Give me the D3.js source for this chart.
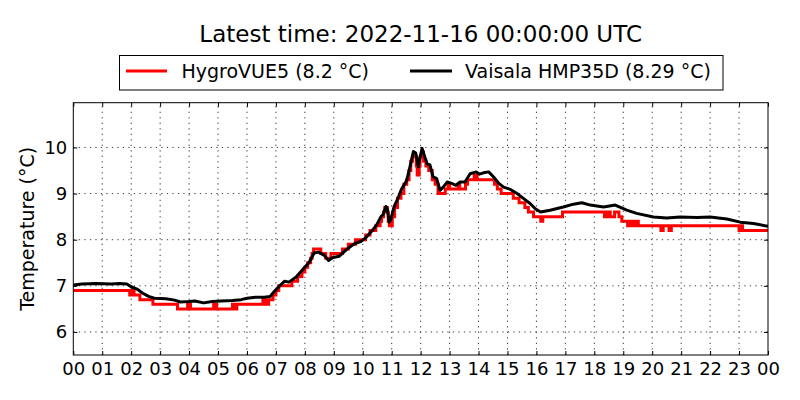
<!DOCTYPE html>
<html>
<head>
<meta charset="utf-8">
<script src="https://cdn.jsdelivr.net/npm/d3@7"></script>
<style>
body{margin:0;background:#fff;}
svg{display:block;font-family:"DejaVu Sans",sans-serif;}
</style>
</head>
<body>
<svg id="c" width="800" height="400"></svg>
<script>
const titleText = "Latest time: 2022-11-16 00:00:00 UTC";
const seriesNames = ["HygroVUE5 (8.2 °C)", "Vaisala HMP35D (8.29 °C)"];
const yTicks = [6, 7, 8, 9, 10];
const xTicks = d3.range(0, 25);
const xTickLabels = xTicks.map(h => String(h % 24).padStart(2, "0"));

// Vaisala HMP35D (hours since 00 UTC, °C)
const vaisalaHours = [0.0,0.3,0.8,1.3,1.6,1.85,2.0,2.2,2.4,2.6,2.8,3.2,3.5,3.7,4.0,4.2,4.5,4.8,5.1,5.5,5.8,6.0,6.3,6.6,6.8,6.95,7.1,7.3,7.45,7.7,7.92,8.15,8.32,8.47,8.67,8.82,8.95,9.18,9.41,9.70,9.93,10.10,10.33,10.48,10.62,10.71,10.80,10.85,10.91,10.96,11.08,11.23,11.34,11.46,11.52,11.63,11.75,11.83,11.92,11.97,12.05,12.14,12.22,12.32,12.43,12.55,12.67,12.78,12.92,13.07,13.22,13.36,13.53,13.71,13.92,14.03,14.17,14.35,14.52,14.70,14.87,15.1,15.33,15.56,15.79,15.96,16.14,16.47,16.93,17.28,17.57,17.86,18.32,18.72,19.12,19.46,20.04,20.5,20.96,21.54,22.0,22.58,23.04,23.5,24.0];
const vaisalaTemp = [7.02,7.04,7.05,7.04,7.05,7.04,6.98,6.93,6.84,6.77,6.73,6.72,6.69,6.65,6.66,6.67,6.63,6.66,6.67,6.68,6.70,6.73,6.75,6.75,6.77,6.88,6.98,7.1,7.08,7.19,7.35,7.51,7.71,7.73,7.66,7.55,7.61,7.64,7.77,7.91,7.96,8.04,8.2,8.32,8.49,8.55,8.72,8.66,8.38,8.42,8.71,8.92,9.1,9.22,9.29,9.58,9.91,9.88,9.58,9.76,9.98,9.8,9.65,9.62,9.36,9.33,9.07,9.14,9.25,9.22,9.18,9.25,9.25,9.43,9.47,9.42,9.45,9.47,9.36,9.22,9.14,9.09,9.0,8.89,8.78,8.67,8.6,8.64,8.71,8.77,8.8,8.75,8.71,8.75,8.64,8.57,8.49,8.47,8.49,8.48,8.49,8.45,8.38,8.35,8.29];

// HygroVUE5 (step changes: hours since 00 UTC, °C)
const hygroHours = [0.0,1.95,2.05,2.1,2.3,2.75,3.6,3.95,4.05,4.85,4.95,5.5,5.55,5.65,6.55,6.65,6.75,6.9,7.0,7.1,7.55,7.75,7.9,8.0,8.1,8.2,8.25,8.3,8.55,8.72,8.9,9.3,9.5,9.75,10.1,10.25,10.45,10.6,10.65,10.72,10.76,10.85,10.88,10.92,11.02,11.1,11.2,11.32,11.42,11.52,11.6,11.66,11.72,11.85,11.88,11.95,11.98,12.03,12.1,12.18,12.28,12.4,12.5,12.6,12.85,12.95,13.0,13.3,13.35,13.55,13.62,13.85,13.95,14.55,14.65,14.78,15.2,15.4,15.6,15.72,15.9,16.15,16.22,16.9,18.35,18.45,18.55,18.7,18.85,18.95,19.15,19.25,19.35,19.45,19.52,20.3,20.38,20.58,20.66,23.0,23.08,23.12,24.0];
const hygroTemp = [6.9,6.8,6.9,6.8,6.7,6.6,6.5,6.6,6.5,6.6,6.5,6.6,6.5,6.6,6.7,6.6,6.7,6.8,6.9,7.0,7.1,7.2,7.3,7.4,7.5,7.6,7.7,7.8,7.7,7.6,7.7,7.8,7.9,8.0,8.1,8.2,8.3,8.4,8.5,8.6,8.7,8.6,8.4,8.3,8.5,8.7,8.9,9.0,9.2,9.3,9.5,9.7,9.8,9.6,9.4,9.6,9.8,9.9,9.7,9.6,9.5,9.3,9.2,9.0,9.1,9.2,9.1,9.2,9.1,9.2,9.3,9.4,9.3,9.2,9.1,9.0,8.9,8.8,8.7,8.6,8.5,8.4,8.5,8.6,8.5,8.6,8.5,8.6,8.5,8.4,8.3,8.4,8.3,8.4,8.3,8.2,8.3,8.2,8.3,8.2,8.3,8.2,8.2];

const svg = d3.select("#c");
const L = 73.3, R = 768, T = 102.7, B = 355;
const x = d3.scaleLinear().domain([0, 24]).range([L, R]);
const y = d3.scaleLinear().domain([5.5, 10.97]).range([B, T]);

svg.append("rect").attr("width", 800).attr("height", 400).attr("fill", "#fff");

// grid
const grid = svg.append("g").attr("stroke", "#000").attr("stroke-width", 1).attr("stroke-dasharray", "1.3,4.2").attr("opacity", 0.75);
xTicks.slice(1, -1).forEach(h => grid.append("line").attr("x1", x(h)).attr("x2", x(h)).attr("y1", B).attr("y2", T));
yTicks.forEach(v => grid.append("line").attr("x1", L).attr("x2", R).attr("y1", y(v)).attr("y2", y(v)));

// series
svg.append("clipPath").attr("id", "pc").append("rect").attr("x", L).attr("y", T).attr("width", R - L).attr("height", B - T);
const hygro = hygroHours.map((h, i) => [h, hygroTemp[i]]);
const vais = vaisalaHours.map((h, i) => [h, vaisalaTemp[i]]);
svg.append("path").datum(hygro).attr("clip-path", "url(#pc)")
  .attr("d", d3.line().x(d => x(d[0])).y(d => y(d[1])).curve(d3.curveStepAfter))
  .attr("fill", "none").attr("stroke", "#ff0000").attr("stroke-width", 3);
svg.append("path").datum(vais).attr("clip-path", "url(#pc)")
  .attr("d", d3.line().x(d => x(d[0])).y(d => y(d[1])))
  .attr("fill", "none").attr("stroke", "#000").attr("stroke-width", 3).attr("stroke-linejoin", "round");

// axes
const fs = 18;
const ax = svg.append("g").attr("transform", `translate(0,${B})`)
  .call(d3.axisBottom(x).tickValues(xTicks).tickFormat((d, i) => xTickLabels[i]).tickSize(-4).tickPadding(7));
const ay = svg.append("g").attr("transform", `translate(${L},0)`)
  .call(d3.axisLeft(y).tickValues(yTicks).tickFormat(d3.format("d")).tickSize(-4).tickPadding(6));
const at = svg.append("g").attr("transform", `translate(0,${T})`)
  .call(d3.axisTop(x).tickValues(xTicks).tickFormat("").tickSize(-4));
const ar = svg.append("g").attr("transform", `translate(${R},0)`)
  .call(d3.axisRight(y).tickValues(yTicks).tickFormat("").tickSize(-4));
[ax, ay, at, ar].forEach(g => {
  g.select(".domain").remove();
  g.selectAll("line").attr("stroke", "#000").attr("stroke-width", 1);
  g.selectAll("text").attr("font-family", "DejaVu Sans").attr("font-size", fs).attr("fill", "#000");
});

svg.append("rect").attr("x", L).attr("y", T).attr("width", R - L).attr("height", B - T)
  .attr("fill", "none").attr("stroke", "#000").attr("stroke-width", 1);

// y label
svg.append("text").attr("transform", `translate(34,${(T + B) / 2}) rotate(-90)`)
  .attr("text-anchor", "middle").attr("font-size", 19).text("Temperature (°C)");

// title
svg.append("text").attr("x", (L + R) / 2).attr("y", 41.5).attr("text-anchor", "middle")
  .attr("font-size", 23).text(titleText);

// legend
const lg = svg.append("g");
lg.append("rect").attr("x", 119.5).attr("y", 55.5).attr("width", 603.5).attr("height", 34.5)
  .attr("fill", "#fff").attr("stroke", "#000").attr("stroke-width", 1);
const legendItems = [
  {name: seriesNames[0], color: "#ff0000", x0: 126, x1: 167, tx: 181.5},
  {name: seriesNames[1], color: "#000", x0: 410, x1: 452, tx: 465}
];
legendItems.forEach(it => {
  lg.append("line").attr("x1", it.x0).attr("x2", it.x1).attr("y1", 71).attr("y2", 71)
    .attr("stroke", it.color).attr("stroke-width", 3);
  lg.append("text").attr("x", it.tx).attr("y", 78.3).attr("font-size", 19).text(it.name);
});
</script>
</body>
</html>
